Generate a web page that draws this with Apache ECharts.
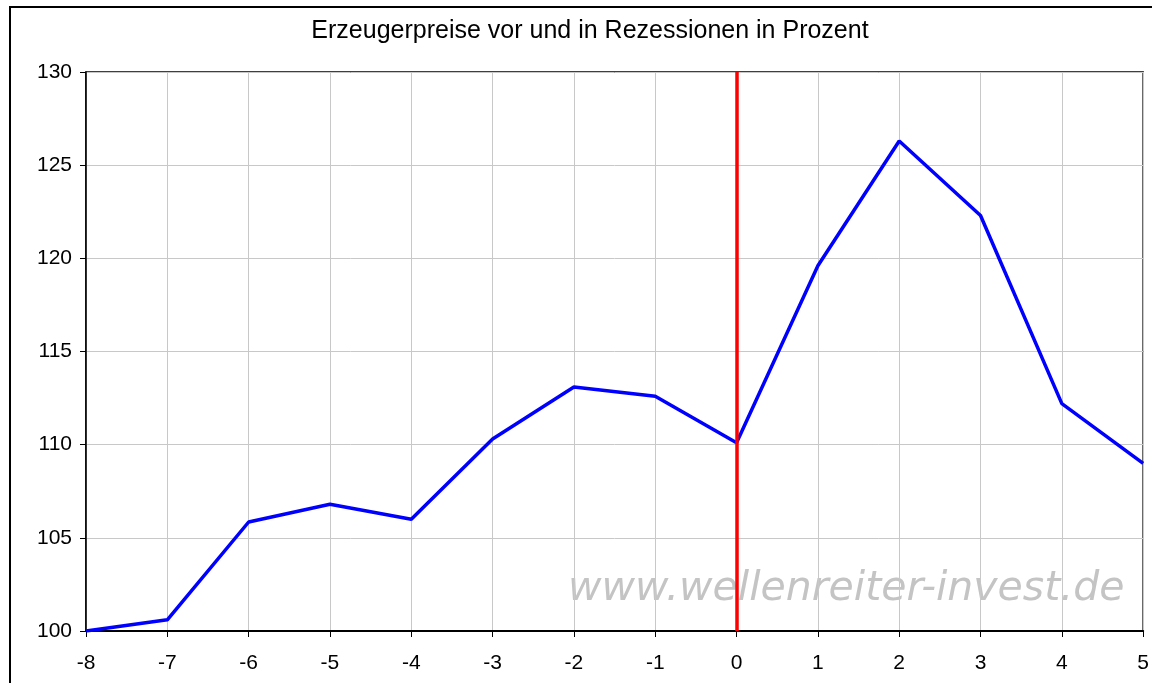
<!DOCTYPE html>
<html>
<head>
<meta charset="utf-8">
<script src="https://cdn.jsdelivr.net/npm/echarts@6/dist/echarts.min.js"></script>
<style>
  html, body { margin: 0; padding: 0; background: #fff; }
  #chart { width: 1152px; height: 683px; }
</style>
</head>
<body>
<div id="chart"></div>
<script>
// Monate relativ zum Rezessionsbeginn
const months = [-8, -7, -6, -5, -4, -3, -2, -1, 0, 1, 2, 3, 4, 5]
const prices = [100, 100.6, 105.85, 106.8, 106.0, 110.3, 113.1, 112.6, 110.1, 119.6, 126.3, 122.3, 112.2, 109.0]
const recessionStart = 0
const yTicks = [100, 105, 110, 115, 120, 125, 130]

const chart = echarts.init(document.getElementById('chart'), null, { renderer: 'canvas' })

const font = '"Liberation Sans", Arial, sans-serif'

chart.setOption({
  backgroundColor: '#fff',
  animation: false,
  title: {
    text: 'Erzeugerpreise vor und in Rezessionen in Prozent',
    left: 585,
    textAlign: 'center',
    top: 14,
    textStyle: { fontFamily: font, fontSize: 25, fontWeight: 'normal', color: '#000' },
  },
  grid: { left: 86, right: 6, top: 72, bottom: 52, show: true, borderColor: '#000', borderWidth: 1.5 },
  xAxis: {
    type: 'value',
    min: -8,
    max: 5,
    interval: 1,
    axisLine: { show: true, onZero: false, lineStyle: { color: '#000', width: 2 } },
    axisTick: { show: true, inside: false, length: 6, lineStyle: { color: '#000' } },
    axisLabel: { fontFamily: font, fontSize: 21, color: '#000', margin: 22 },
    splitLine: { show: true, lineStyle: { color: '#c8c8c8', width: 1 } },
  },
  yAxis: {
    type: 'value',
    min: yTicks[0],
    max: yTicks[yTicks.length - 1],
    interval: 5,
    axisLine: { show: true, onZero: false, lineStyle: { color: '#000', width: 1.5 } },
    axisTick: { show: true, inside: false, length: 6, lineStyle: { color: '#000' } },
    axisLabel: { fontFamily: font, fontSize: 21, color: '#000', margin: 14 },
    splitLine: { show: true, lineStyle: { color: '#c8c8c8', width: 1 } },
  },
  graphic: [
    {
      type: 'polyline',
      shape: { points: [[10, 683], [10, 7], [1152, 7]] },
      style: { stroke: '#000', lineWidth: 2, fill: null },
      silent: true,
    },
    {
      type: 'text',
      left: 568,
      top: 569,
      z: 0,
      style: {
        text: 'www.wellenreiter-invest.de',
        font: 'italic 41px "DejaVu Sans", sans-serif',
        fill: '#c4c4c4',
      },
    },
  ],
  series: [
    {
      type: 'line',
      data: months.map((m, i) => [m, prices[i]]),
      showSymbol: false,
      lineStyle: { color: '#0000ff', width: 3.5 },
      z: 3,
      markLine: {
        silent: true,
        symbol: 'none',
        label: { show: false },
        lineStyle: { color: '#ff0000', width: 3.5, type: 'solid' },
        data: [{ xAxis: recessionStart }],
      },
    },
  ],
})
</script>
</body>
</html>
